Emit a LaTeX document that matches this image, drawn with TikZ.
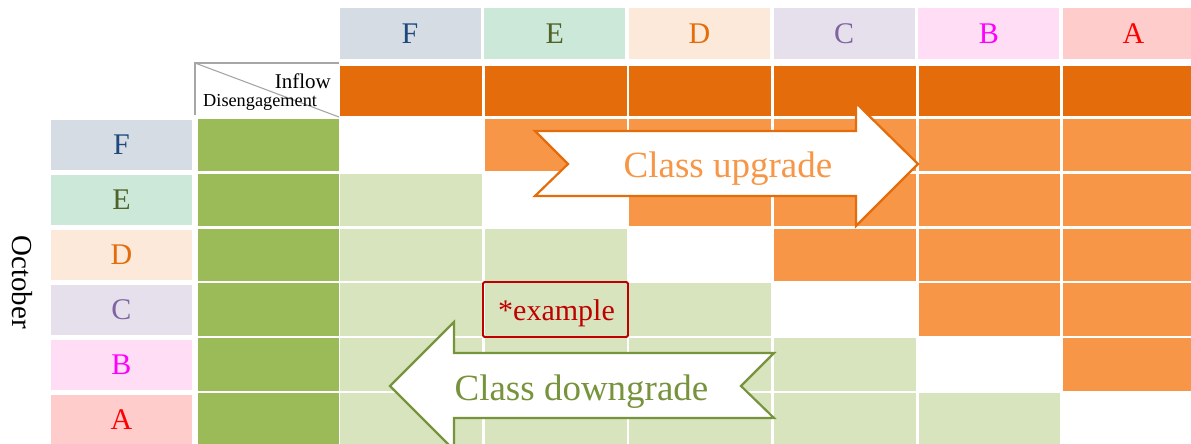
\documentclass[tikz,border=0pt]{standalone}
\usepackage{fontspec}
\setmainfont{Liberation Serif}

% palette
\definecolor{inflowor}{HTML}{E46C0A}
\definecolor{upcell}{HTML}{F79646}
\definecolor{outgreen}{HTML}{9BBB59}
\definecolor{downcell}{HTML}{D7E4BD}
\definecolor{downline}{HTML}{77933C}
\definecolor{exred}{HTML}{C00000}
\definecolor{diaggray}{HTML}{A6A6A6}
% class label backgrounds and letters
\definecolor{bgF}{HTML}{D5DCE4}\definecolor{fgF}{HTML}{1F497D}
\definecolor{bgE}{HTML}{CCE8D8}\definecolor{fgE}{HTML}{4F6228}
\definecolor{bgD}{HTML}{FDE9D9}\definecolor{fgD}{HTML}{E46C0A}
\definecolor{bgC}{HTML}{E5E0EC}\definecolor{fgC}{HTML}{8064A2}
\definecolor{bgB}{HTML}{FFDDF5}\definecolor{fgB}{HTML}{FF00FF}
\definecolor{bgA}{HTML}{FFCCCC}\definecolor{fgA}{HTML}{FF0000}

\begin{document}
\begin{tikzpicture}[x=1pt,y=-1pt,
  classlabel/.style={inner sep=0pt, minimum width=141pt, minimum height=51pt,
    font=\fontsize{30}{36}\selectfont},
  cellbox/.style={inner sep=0pt, anchor=north west, minimum width=141.8pt,
    minimum height=52.3pt},
  diagline/.style={draw=diaggray, line width=1.1pt},
  uparrow/.style={draw=inflowor, fill=white, line width=2.2pt, line join=miter},
  downarrow/.style={draw=downline, fill=white, line width=2.2pt, line join=miter},
  arrowtext/.style={inner sep=0pt, anchor=base, font=\fontsize{37}{44}\selectfont},
  exbox/.style={draw=exred, line width=1.8pt, rounded corners=1.5pt, inner sep=0pt,
    minimum width=145pt, minimum height=55pt}
]
\useasboundingbox (0,0) rectangle (1191,444);
\clip (0,0) rectangle (1191,444);

% class headers along the top (inflow side)
\foreach \L [count=\c from 0] in {F,E,D,C,B,A}
  \node[classlabel, fill=bg\L, text=fg\L] (top-\L) at ({410+144.7*\c},34) {\L};

% class labels down the left side
\foreach \L [count=\r from 0] in {F,E,D,C,B,A}
  \node[classlabel, fill=bg\L, text=fg\L, minimum height=50pt] (left-\L) at (121.5,{145+54.9*\r}) {\L};

% rotated axis title
\node[inner sep=0pt, rotate=-90, font=\fontsize{29}{35}\selectfont] (october) at (22,282) {October};

% inflow row
\foreach \c in {0,...,5}
  \node[cellbox, fill=inflowor, minimum height=50pt] (inflow-\c) at ({340+144.6*\c},66) {};

% disengagement column
\foreach \r in {0,...,5}
  \node[cellbox, fill=outgreen, minimum width=141pt] (out-\r) at (197.5,{118.5+54.9*\r}) {};

% transition matrix: upgrades right of the diagonal, downgrades left of it
\foreach \r in {0,...,5}{
  \foreach \c in {0,...,5}{
    \ifnum\c>\r
      \node[cellbox, fill=upcell] (cell-\r-\c) at ({340+144.6*\c},{118.5+54.9*\r}) {};
    \fi
    \ifnum\c<\r
      \node[cellbox, fill=downcell] (cell-\r-\c) at ({340+144.6*\c},{118.5+54.9*\r}) {};
    \fi
  }
}

% split corner cell
\coordinate (dg-nw) at (195,63);
\coordinate (dg-ne) at (339,63);
\coordinate (dg-sw) at (195,115);
\coordinate (dg-se) at (339,117);
\draw[diagline] (dg-sw) -- (dg-nw) -- (dg-ne);
\draw[diagline] (dg-nw) -- (dg-se);
\node[inner sep=0pt, anchor=base east, font=\fontsize{21}{25}\selectfont] (inflow-lbl) at (331,88.5) {Inflow};
\node[inner sep=0pt, anchor=base west, font=\fontsize{18.3}{22}\selectfont] (diseng-lbl) at (203,106.5) {Disengagement};

% upgrade arrow
\draw[uparrow] (535,131) -- (856,131) -- (856,103) -- (918,164) -- (856,226)
  -- (856,196) -- (535,196) -- (568,164) -- cycle;
\node[arrowtext, text=upcell] (up-lbl) at (728,177) {Class upgrade};

% example marker
\node[exbox] (example) at (555.5,309.5) {};
\node[inner sep=0pt, anchor=base, text=exred, font=\fontsize{30}{36}\selectfont] (example-lbl) at (556.5,320) {*example};

% downgrade arrow
\draw[downarrow] (390,386) -- (454,322) -- (454,353) -- (774,353) -- (741,386)
  -- (774,418) -- (454,418) -- (454,450) -- cycle;
\node[arrowtext, text=downline] (down-lbl) at (581.5,400) {Class downgrade};
\end{tikzpicture}
\end{document}
